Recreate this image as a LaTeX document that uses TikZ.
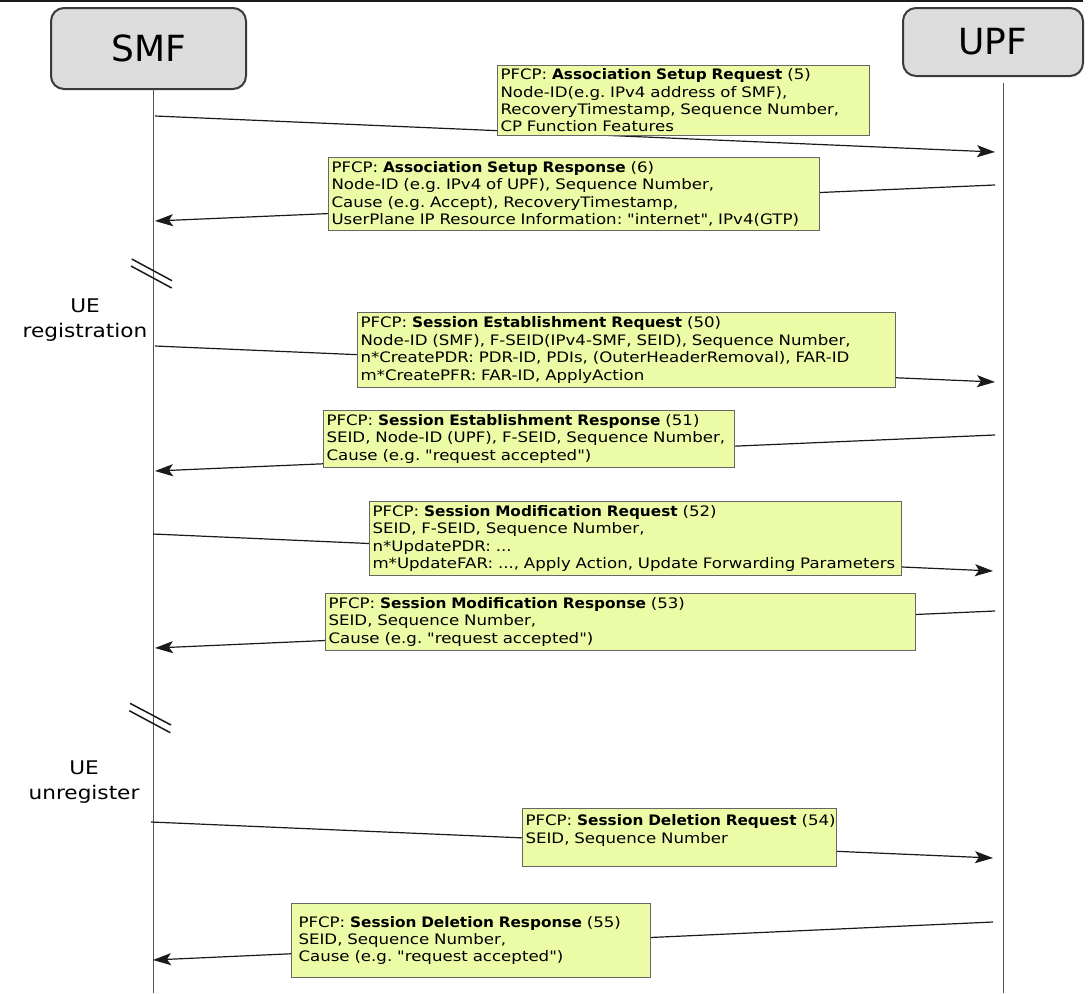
\documentclass[tikz,border=0pt]{standalone}
\usepackage{fontspec}
\setmainfont{DejaVu Sans}
\newfontfamily\lblfont[UprightFeatures={FakeStretch=1.15},
  BoldFeatures={FakeStretch=1.06}]{DejaVu Sans}
\usetikzlibrary{arrows.meta}
\frenchspacing

\definecolor{boxfill}{HTML}{ECFCA6}
\definecolor{boxline}{HTML}{666666}
\definecolor{actorfill}{HTML}{DCDCDC}
\definecolor{actorline}{HTML}{3A3A3A}
\definecolor{lifeline}{HTML}{555555}
\definecolor{msgline}{HTML}{1A1A1A}

% one unbreakable line of a message box
\newcommand\msgrow[1]{\mbox{#1}}

\begin{document}
\begin{tikzpicture}[x=1pt,y=-1pt,
  actor/.style={draw=actorline, fill=actorfill, line width=2pt, rounded corners=13pt,
    font=\fontsize{36}{40}\selectfont},
  life/.style={draw=lifeline, line width=1pt},
  msg/.style={draw=msgline, line width=1.2pt, -{Stealth[length=18pt,width=12pt,inset=4pt]}},
  msgbox/.style={draw=boxline, fill=boxfill, line width=1pt, anchor=north west,
    inner xsep=3pt, inner ysep=2pt, align=left,
    font=\lblfont\fontsize{14.45}{17.4}\selectfont},
  note/.style={align=center, font=\lblfont\fontsize{18.8}{25}\selectfont},
  brk/.style={draw=msgline, line width=1.5pt}]
\useasboundingbox (0,0) rectangle (1089,993);

% frame edge along the top
\coordinate (frameL) at (0,1);
\coordinate (frameR) at (1083,1);
\draw[line width=2pt, msgline] (frameL) -- (frameR);

% participants
\node[actor, minimum width=195pt, minimum height=81pt] (smf) at (148.5,48.5) {SMF};
\node[actor, minimum width=180pt, minimum height=68pt] (upf) at (993,42) {UPF};

% lifelines
\coordinate (smfTop) at (153,89);
\coordinate (smfEnd) at (153,993);
\coordinate (upfTop) at (1003,83);
\coordinate (upfEnd) at (1003,993);
\draw[life] (smfTop) -- (smfEnd);
\draw[life] (upfTop) -- (upfEnd);

% break marks on the SMF lifeline
\draw[brk] (131.7,259) -- (172,280.7);
\draw[brk] (131,266) -- (171.7,288);
\draw[brk] (130,703.3) -- (171,725);
\draw[brk] (129.3,710.7) -- (170.3,732.7);

% phase notes
\node[note] (reg) at (85,320) {UE\\registration};
\node[note] (unreg) at (84,782) {UE\\unregister};

% message end points
\coordinate (m1a) at (155,116);  \coordinate (m1b) at (995,152);
\coordinate (m2a) at (995,185);  \coordinate (m2b) at (155,221);
\coordinate (m3a) at (155,346);  \coordinate (m3b) at (995,382);
\coordinate (m4a) at (995,435);  \coordinate (m4b) at (155,471);
\coordinate (m5a) at (153,534);  \coordinate (m5b) at (993,571);
\coordinate (m6a) at (995,611);  \coordinate (m6b) at (155,648);
\coordinate (m7a) at (151,822);  \coordinate (m7b) at (993,858);
\coordinate (m8a) at (993,922);  \coordinate (m8b) at (153,960);

\draw[msg] (m1a) -- (m1b);
\draw[msg] (m2a) -- (m2b);
\draw[msg] (m3a) -- (m3b);
\draw[msg] (m4a) -- (m4b);
\draw[msg] (m5a) -- (m5b);
\draw[msg] (m6a) -- (m6b);
\draw[msg] (m7a) -- (m7b);
\draw[msg] (m8a) -- (m8b);

% message contents
\node[msgbox, text width=366pt, minimum height=70pt] (b1) at (497,65)
  {\msgrow{PFCP: \textbf{Association Setup Request} (5)}\\
   \msgrow{Node-ID(e.g. IPv4 address of SMF),}\\
   \msgrow{RecoveryTimestamp, Sequence Number,}\\
   \msgrow{CP Function Features}};
\node[msgbox, text width=485pt, minimum height=73pt] (b2) at (328,157)
  {\msgrow{PFCP: \textbf{Association Setup Response} (6)}\\
   \msgrow{Node-ID (e.g. IPv4 of UPF), Sequence Number,}\\
   \msgrow{Cause (e.g. Accept), RecoveryTimestamp,}\\
   \msgrow{UserPlane IP Resource Information: "internet", IPv4(GTP)}};
\node[msgbox, text width=532pt, minimum height=75pt] (b3) at (357,312)
  {\msgrow{PFCP: \textbf{Session Establishment Request} (50)}\\
   \msgrow{Node-ID (SMF), F-SEID(IPv4-SMF, SEID), Sequence Number,}\\
   \msgrow{n*CreatePDR: PDR-ID, PDIs, (OuterHeaderRemoval), FAR-ID}\\
   \msgrow{m*CreatePFR: FAR-ID, ApplyAction}};
\node[msgbox, text width=405pt, minimum height=57pt] (b4) at (323,410)
  {\msgrow{PFCP: \textbf{Session Establishment Response} (51)}\\
   \msgrow{SEID, Node-ID (UPF), F-SEID, Sequence Number,}\\
   \msgrow{Cause (e.g. "request accepted")}};
\node[msgbox, text width=526pt, minimum height=74pt] (b5) at (369,501)
  {\msgrow{PFCP: \textbf{Session Modification Request} (52)}\\
   \msgrow{SEID, F-SEID, Sequence Number,}\\
   \msgrow{n*UpdatePDR: ...}\\
   \msgrow{m*UpdateFAR: ..., Apply Action, Update Forwarding Parameters}};
\node[msgbox, text width=584pt, minimum height=57pt] (b6) at (325,593)
  {\msgrow{PFCP: \textbf{Session Modification Response} (53)}\\
   \msgrow{SEID, Sequence Number,}\\
   \msgrow{Cause (e.g. "request accepted")}};
\node[msgbox, text width=308pt, minimum height=58pt] (b7) at (522,808)
  {\msgrow{PFCP: \textbf{Session Deletion Request} (54)}\\
   \msgrow{SEID, Sequence Number}\\
   \mbox{}};
\node[msgbox, inner xsep=7pt, text width=345pt, minimum height=74pt] (b8) at (291,903)
  {\msgrow{PFCP: \textbf{Session Deletion Response} (55)}\\
   \msgrow{SEID, Sequence Number,}\\
   \msgrow{Cause (e.g. "request accepted")}};
\end{tikzpicture}
\end{document}
